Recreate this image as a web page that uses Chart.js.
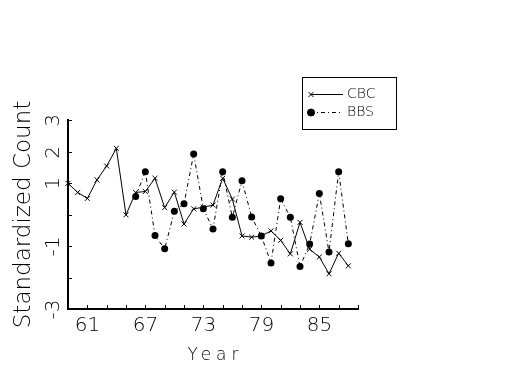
<!DOCTYPE html>
<html><head><meta charset="utf-8">
<script src="https://cdn.jsdelivr.net/npm/chart.js@4/dist/chart.umd.min.js"></script>
<style>html,body{margin:0;padding:0;background:#fff}</style>
</head><body>
<canvas id="c" width="525" height="375"></canvas>
<script>
// ---- data ----
const cbcYears = [59,60,61,62,63,64,65,66,67,68,69,70,71,72,73,74,75,76,77,78,79,80,81,82,83,84,85,86,87,88];
const cbcValues = [0.99,0.70,0.51,1.10,1.54,2.10,-0.01,0.70,0.73,1.15,0.22,0.71,-0.30,0.18,0.23,0.30,1.15,0.49,-0.68,-0.72,-0.68,-0.52,-0.82,-1.25,-0.25,-1.10,-1.35,-1.88,-1.23,-1.63];
const bbsYears = [66,67,68,69,70,71,72,73,74,75,76,77,78,79,80,81,82,83,84,85,86,87,88];
const bbsValues = [0.57,1.36,-0.67,-1.09,0.10,0.34,1.92,0.18,-0.46,1.36,-0.09,1.07,-0.08,-0.68,-1.54,0.50,-0.09,-1.65,-0.94,0.67,-1.19,1.36,-0.93];
const seriesLabels = ['CBC','BBS'];
const xTickLabels = ['61','67','73','79','85'];
const yTickLabels = ['3','2','1','-1','-3'];
const xTitle = 'Year';
const yTitle = 'Standardized Count';

const FAM = '"DejaVu Sans", "Liberation Sans", sans-serif';
const WEIGHT = '200';

const inkPlugin = {
  id: 'ink',
  afterDraw(chart) {
    const ctx = chart.ctx, xs = chart.scales.x, ys = chart.scales.y, a = chart.chartArea;
    ctx.save();
    ctx.strokeStyle = '#000'; ctx.fillStyle = '#000'; ctx.lineWidth = 1;
    // x tick marks (inward) and labels
    ctx.font = WEIGHT + ' 20px ' + FAM;
    ctx.textAlign = 'center'; ctx.textBaseline = 'middle';
    xs.ticks.forEach(t => {
      const px = Math.round(xs.getPixelForValue(t.value)) + 0.5;
      ctx.beginPath(); ctx.moveTo(px, a.bottom); ctx.lineTo(px, a.bottom - 4); ctx.stroke();
      if (xTickLabels.includes(String(t.value))) ctx.fillText(String(t.value), px, a.bottom + 17);
    });
    // y tick marks and rotated labels
    ys.ticks.forEach(t => {
      const py = Math.round(ys.getPixelForValue(t.value)) + 0.5;
      ctx.beginPath(); ctx.moveTo(a.left, py); ctx.lineTo(a.left + 4, py); ctx.stroke();
      if (yTickLabels.includes(String(t.value))) {
        ctx.save(); ctx.translate(a.left - 14, py); ctx.rotate(-Math.PI / 2);
        ctx.fillText(String(t.value), 0, 0); ctx.restore();
      }
    });
    // axis titles
    ctx.save();
    ctx.font = WEIGHT + ' 17px ' + FAM;
    ctx.letterSpacing = '5px';
    ctx.fillText(xTitle, (a.left + a.right) / 2 + 2.5, a.bottom + 47);
    ctx.restore();
    ctx.save();
    ctx.font = WEIGHT + ' 23px ' + FAM;
    ctx.translate(24, (a.top + a.bottom) / 2); ctx.rotate(-Math.PI / 2);
    ctx.fillText(yTitle, 0, 0);
    ctx.restore();
    // legend
    ctx.strokeRect(302.5, 77.5, 94, 52);
    const rows = [94, 112];
    chart.data.datasets.forEach((ds, i) => {
      const y = rows[i];
      ctx.save();
      ctx.lineWidth = 1;
      ctx.setLineDash(ds.borderDash || []);
      ctx.beginPath(); ctx.moveTo(310, y + 0.5); ctx.lineTo(343, y + 0.5); ctx.stroke();
      ctx.restore();
      Chart.helpers.drawPoint(ctx, {pointStyle: ds.pointStyle, radius: ds.pointRadius, borderWidth: 1}, 311, y + 0.5);
      if (ds.pointStyle === 'circle') { ctx.beginPath(); ctx.arc(311, y + 0.5, ds.pointRadius, 0, Math.PI * 2); ctx.fill(); }
      ctx.font = WEIGHT + ' 14px ' + FAM;
      ctx.textAlign = 'left'; ctx.textBaseline = 'middle';
      ctx.fillText(ds.label, 347, y + 0.5);
    });
    ctx.restore();
  }
};

new Chart(document.getElementById('c'), {
  type: 'line',
  data: {
    datasets: [
      {
        label: seriesLabels[0],
        data: cbcYears.map((yr, i) => ({x: yr, y: cbcValues[i]})),
        borderColor: '#000', backgroundColor: '#000', borderWidth: 1,
        pointStyle: 'crossRot', pointRadius: 3.5, pointBorderWidth: 1,
        tension: 0, clip: false
      },
      {
        label: seriesLabels[1],
        data: bbsYears.map((yr, i) => ({x: yr, y: bbsValues[i]})),
        borderColor: '#000', backgroundColor: '#000', borderWidth: 1,
        borderDash: [4, 3, 1, 3],
        pointStyle: 'circle', pointRadius: 3.5, pointBorderWidth: 0,
        tension: 0, clip: false
      }
    ]
  },
  options: {
    responsive: false, animation: false, devicePixelRatio: 1,
    layout: {padding: {top: 120, right: 167, left: 0, bottom: 0}},
    plugins: {legend: {display: false}, tooltip: {enabled: false}},
    scales: {
      x: {
        type: 'linear', min: 59, max: 89,
        ticks: {display: false, stepSize: 2},
        grid: {display: false},
        border: {display: true, color: '#000', width: 2},
        afterFit(s) { s.height = 66; }
      },
      y: {
        type: 'linear', min: -3, max: 3,
        ticks: {display: false, stepSize: 1},
        grid: {display: false},
        border: {display: true, color: '#000', width: 2},
        afterFit(s) { s.width = 68; }
      }
    }
  },
  plugins: [inkPlugin]
});
</script>
</body></html>
